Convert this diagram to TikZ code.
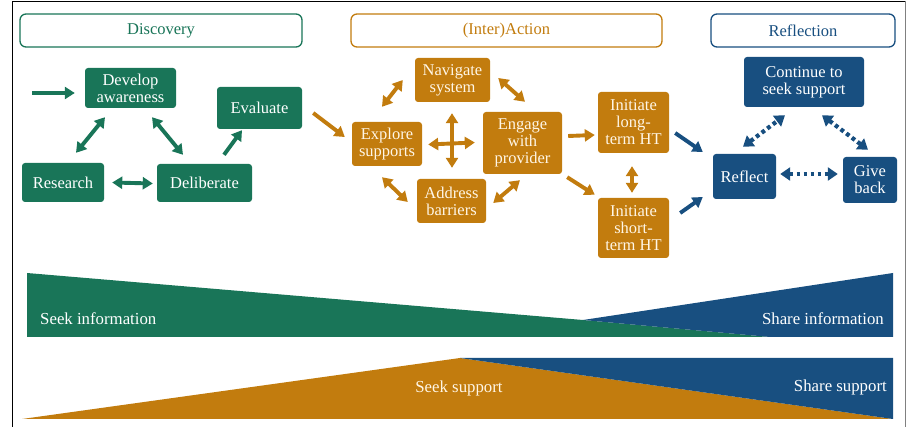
\documentclass[tikz,border=0pt]{standalone}
\usepackage{fontspec}
\setmainfont{Liberation Serif}
\usetikzlibrary{arrows.meta}

\definecolor{dgreen}{HTML}{197558}
\definecolor{dorange}{HTML}{C27C0E}
\definecolor{dblue}{HTML}{184F80}
\definecolor{cream}{HTML}{FFF6E6}

\tikzset{
  txt/.style={font=\fontsize{16.5}{17}\selectfont, align=center, inner sep=0pt},
  box/.style={txt, rounded corners=3pt, text=white},
  gbox/.style={box, fill=dgreen},
  obox/.style={box, fill=dorange, text=cream},
  bbox/.style={box, fill=dblue},
  header/.style={txt, draw, line width=1.3pt, rounded corners=6pt,
    minimum height=33pt, fill=white},
  arr/.style={line width=3.9pt, -{Triangle[length=10pt,width=12pt]}},
  darr/.style={line width=3.9pt, {Triangle[length=10pt,width=12pt]}-{Triangle[length=10pt,width=12pt]}},
  dotarr/.style={line width=4.2pt, dash pattern=on 3.8pt off 3.2pt,
    {Triangle[length=10pt,width=13pt]}-{Triangle[length=10pt,width=13pt]}},
  bandtxt/.style={font=\fontsize{16.8}{18}\selectfont, text=white, inner sep=0pt}
}

\begin{document}
\begin{tikzpicture}[x=1pt, y=-1pt]
\useasboundingbox (0,0) rectangle (908,427);

% outer frame
\draw[line width=1pt, black] (12,427) -- (12,1.5) -- (905,1.5);
\draw[line width=1pt, gray] (905,1.5) -- (905,427);

% phase headers
\node[header, draw=dgreen, text=dgreen, minimum width=282pt] (hdisc) at (161,30.5) {Discovery};
\node[header, draw=dorange, text=dorange, minimum width=311pt] (hact) at (506.5,30.5) {(Inter)Action};
\node[header, draw=dblue, text=dblue, minimum width=184pt] (hrefl) at (803,30.5) {Reflection};

% Discovery steps
\node[gbox, minimum width=91pt, minimum height=40pt] (dev) at (130.5,88) {Develop\\awareness};
\node[gbox, minimum width=85pt, minimum height=42pt] (eval) at (259.5,108) {Evaluate};
\node[gbox, minimum width=82pt, minimum height=39pt] (res) at (63,182.5) {Research};
\node[gbox, minimum width=95pt, minimum height=38pt] (del) at (204.5,183) {Deliberate};

% (Inter)Action steps
\node[obox, minimum width=75pt, minimum height=44pt] (nav) at (452.5,80) {Navigate\\system};
\node[obox, minimum width=70pt, minimum height=44pt] (expl) at (387,144) {Explore\\supports};
\node[obox, minimum width=79pt, minimum height=62pt] (eng) at (522.5,143) {Engage\\with\\provider};
\node[obox, minimum width=69pt, minimum height=44pt] (addr) at (451.5,201) {Address\\barriers};
\node[obox, minimum width=71pt, minimum height=61pt] (ilong) at (633.5,122.5) {Initiate\\long-\\term HT};
\node[obox, minimum width=71pt, minimum height=60pt] (ishort) at (633.5,228) {Initiate\\short-\\term HT};

% Reflection steps
\node[bbox, minimum width=120pt, minimum height=50pt] (cont) at (804,82) {Continue to\\seek support};
\node[bbox, minimum width=63pt, minimum height=45pt] (refl) at (744.5,176.5) {Reflect};
\node[bbox, minimum width=54pt, minimum height=46pt] (give) at (870,180) {Give\\back};

% Discovery connectors
\coordinate (entry) at (32,93);
\draw[arr, dgreen] (entry) -- ([xshift=-10pt, yshift=-5pt]dev.west);
\draw[darr, dgreen] ([xshift=-25.5pt, yshift=-9pt]dev.south) -- ([xshift=13pt, yshift=10pt]res.north);
\draw[darr, dgreen] ([xshift=21.5pt, yshift=-9pt]dev.south) -- ([xshift=-21.5pt, yshift=9pt]del.north);
\draw[darr, dgreen] ([xshift=8pt]res.east) -- ([xshift=-4pt, yshift=-0.5pt]del.west);
\draw[arr, dgreen] ([xshift=19.5pt, yshift=9pt]del.north) -- ([xshift=-17.5pt, yshift=-1pt]eval.south);

% (Inter)Action connectors
\draw[arr, dorange] ([xshift=11pt, yshift=-5pt]eval.east) -- ([xshift=-7pt, yshift=7pt]expl.west);
\draw[darr, dorange] ([xshift=-5pt, yshift=15pt]expl.north) -- ([xshift=-12pt]nav.west);
\draw[darr, dorange] ([xshift=8pt, yshift=2pt]nav.east) -- ([xshift=2.5pt, yshift=10pt]eng.north);
\draw[darr, dorange] ([xshift=-5pt, yshift=-11pt]expl.south) -- ([xshift=-9pt, yshift=-1pt]addr.west);
\draw[darr, dorange] ([xshift=7pt, yshift=-2pt]addr.east) -- ([xshift=-2.5pt, yshift=-6pt]eng.south);
\draw[darr, dorange] ([xshift=6pt, yshift=-0.5pt]expl.east) -- ([xshift=-8pt, yshift=0.5pt]eng.west);
\draw[darr, dorange] ([xshift=-0.5pt, yshift=-11pt]nav.south) -- ([xshift=0.5pt, yshift=11pt]addr.north);
\draw[arr, dorange] ([xshift=6pt, yshift=7pt]eng.east) -- ([xshift=-3pt, yshift=-12.5pt]ilong.west);
\draw[arr, dorange] ([xshift=5pt, yshift=-3pt]eng.south east) -- ([xshift=-3pt, yshift=3pt]ishort.north west);
\draw[darr, dorange] ([xshift=-1.5pt, yshift=-13pt]ilong.south) -- ([xshift=-1.5pt, yshift=5pt]ishort.north);

% Reflection connectors
\draw[arr, dblue] ([xshift=6pt, yshift=-10.5pt]ilong.east) -- ([xshift=-10pt, yshift=24.5pt]refl.west);
\draw[arr, dblue] ([xshift=11pt, yshift=15pt]ishort.east) -- ([xshift=-10pt, yshift=-20.5pt]refl.west);
\draw[dotarr, dblue] ([xshift=-1.5pt, yshift=7pt]refl.north) -- ([xshift=-19pt, yshift=-8pt]cont.south);
\draw[dotarr, dblue] ([xshift=18pt, yshift=-8pt]cont.south) -- ([xshift=-2pt, yshift=7pt]give.north);
\draw[dotarr, dblue] ([xshift=4pt, yshift=2.5pt]refl.east) -- ([xshift=-5pt, yshift=6pt]give.west);

% information band
\fill[dgreen] (27,273) -- (583,320) -- (770,337) -- (27,337) -- cycle;
\fill[dblue] (583,320) -- (893,273) -- (893,337) -- (770,337) -- cycle;
\node[bandtxt, anchor=west] (seekinfo) at (40,319) {Seek information};
\node[bandtxt, anchor=east] (shareinfo) at (884,319) {Share information};

% support band
\fill[dorange] (22,419) -- (460,358) -- (893,419) -- cycle;
\fill[dblue] (460,358) -- (893,358) -- (893,419) -- cycle;
\node[bandtxt, text=cream] (seeksup) at (459,388) {Seek support};
\node[bandtxt, anchor=east] (sharesup) at (887,387) {Share support};
\end{tikzpicture}
\end{document}
